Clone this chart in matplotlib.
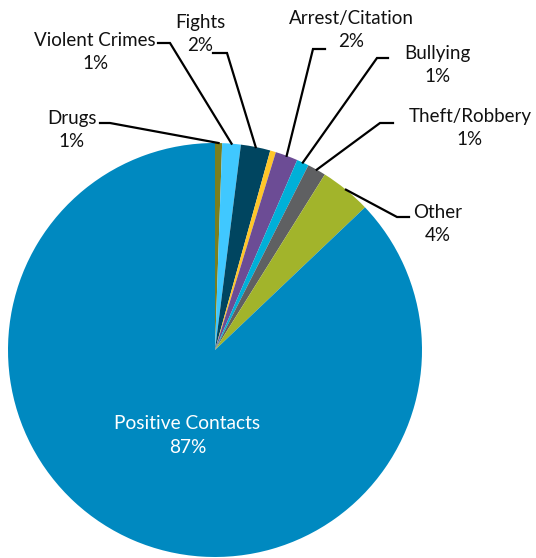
import numpy as np
import matplotlib
matplotlib.use('Agg')
import matplotlib.pyplot as plt

plt.rcParams['font.family'] = ['Lato', 'DejaVu Sans']

# contact categories, clockwise from 12 o'clock
categories = ['Drugs', 'Violent Crimes', 'Fights', 'Weapons', 'Arrest/Citation',
              'Bullying', 'Theft/Robbery', 'Other', 'Positive Contacts']
shares = [0.55, 1.45, 2.3, 0.45, 1.75, 0.95, 1.45, 4.0, 87.1]
pct_labels = ['1%', '1%', '2%', '', '2%', '1%', '1%', '4%', '87%']
colors = ['#7a7f1e', '#40c8ff', '#004560', '#ffc629', '#6c4c95',
          '#00b0d8', '#5f6062', '#a2b42b', '#0089c0']

W, H = 536, 558
CX, CY, R = 215, 208, 207

# label block centre, elbow point and end of the short horizontal tick (pixel coords, y from top)
callouts = {
    'Drugs':           ((72, 130),  (110, 123), (100, 123)),
    'Violent Crimes':  ((95, 52),   (170, 43),  (158, 43)),
    'Fights':          ((200, 34),  (227, 53),  (213, 53)),
    'Arrest/Citation': ((351, 30),  (313, 49),  (325, 49)),
    'Bullying':        ((437, 65),  (377, 58),  (388, 58)),
    'Theft/Robbery':   ((470, 128), (380, 123), (393, 123)),
    'Other':           ((438, 224), (397, 217), (409, 217)),
}

fig = plt.figure(figsize=(W / 100, H / 100), dpi=100)
ax = fig.add_axes([0, 0, 1, 1])

wedges, _ = ax.pie(shares, colors=colors, startangle=90, counterclock=False,
                   center=(CX, CY), radius=R, frame=True,
                   wedgeprops=dict(linewidth=0))
ax.set_xlim(0, W); ax.set_ylim(0, H)
ax.set_aspect('equal'); ax.axis('off')

for w, name, pct in zip(wedges, categories, pct_labels):
    if name not in callouts:
        continue
    (tx, ty), (ex, ey), (hx, hy) = callouts[name]
    mid = np.deg2rad((w.theta1 + w.theta2) / 2)
    rx, ry = CX + R * np.cos(mid), CY + R * np.sin(mid)
    ax.plot([rx, ex, hx], [ry, H - ey, H - hy], color='black', lw=1.6,
            solid_joinstyle='miter', zorder=3)
    ax.text(tx, H - ty, f'{name}\n{pct}', ha='center', va='center',
            fontsize=13.5, linespacing=1.45, color='#111111')

# biggest slice is labelled inside
pos = categories.index('Positive Contacts')
ax.text(187.5, H - 435.5, f'{categories[pos]}\n{pct_labels[pos]}', ha='center',
        va='center', fontsize=13.8, linespacing=1.55, color='white')

fig.savefig('out.png', dpi=100)
